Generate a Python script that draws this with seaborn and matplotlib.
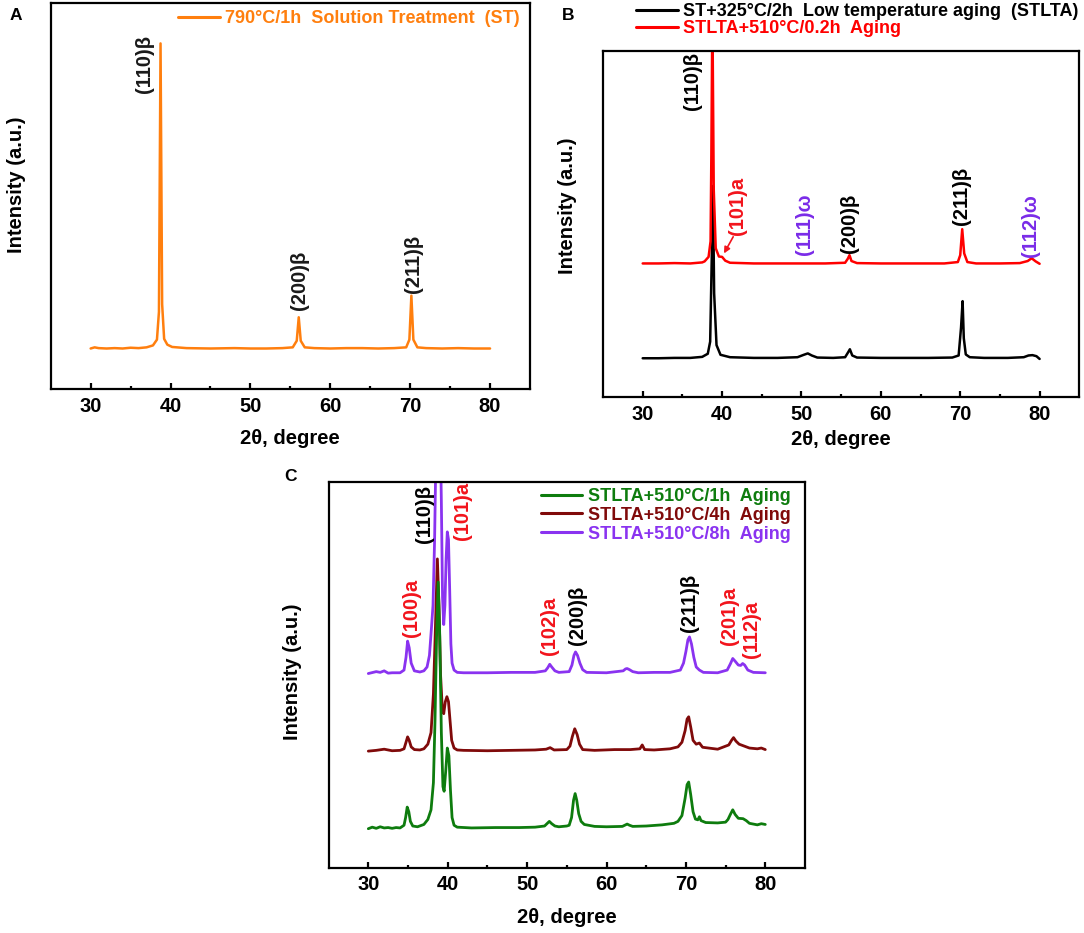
import seaborn as sns
import matplotlib.pyplot as plt
from matplotlib.ticker import MultipleLocator, FixedLocator
from matplotlib.lines import Line2D

# ---------------- data (2theta in degree, intensity a.u. 0..100) -------------
# panel A : 790C/1h solution treatment
tt_st = [30, 30.5, 31, 32, 33, 34, 35, 36, 37, 37.8, 38.3, 38.55, 38.75, 38.95, 39.2, 39.6, 40.2,
         42, 45, 48, 50, 52, 54, 55.3, 55.8, 56.05, 56.3, 56.8, 58, 60, 62, 64, 66, 68, 69.5,
         69.9, 70.15, 70.4, 70.9, 72, 74, 76, 78, 80]
i_st = [10.5, 10.8, 10.6, 10.5, 10.6, 10.5, 10.7, 10.6, 10.8, 11.3, 12.8, 20, 89.6, 22, 13, 11.5, 10.9,
        10.6, 10.5, 10.6, 10.5, 10.5, 10.6, 10.8, 12.5, 18.6, 12.5, 10.8, 10.6, 10.5, 10.6, 10.6, 10.5, 10.6, 10.8,
        12.8, 24.2, 12.8, 10.8, 10.6, 10.5, 10.6, 10.5, 10.5]

# panel B : STLTA (black) and STLTA + 510C/0.2h (red)
tt_stlta = [30, 32, 34, 36, 37.5, 38.2, 38.5, 38.7, 38.85, 39.0, 39.3, 39.8, 41, 44, 47, 49.5, 50.3,
            50.8, 51.3, 52, 54, 55.5, 55.9, 56.1, 56.4, 57, 60, 63, 66, 69, 69.8, 70.1, 70.3, 70.45,
            70.7, 71.2, 73, 76, 78, 78.6, 79.1, 79.6, 80]
i_stlta = [11.2, 11.2, 11.3, 11.3, 11.6, 12.5, 16, 40, 61, 30, 15, 12.2, 11.5, 11.3, 11.3, 11.5, 12.2,
           12.6, 12.0, 11.4, 11.3, 11.5, 13.0, 13.8, 12.0, 11.4, 11.3, 11.3, 11.3, 11.4, 12.0, 20, 27.7, 17,
           12.3, 11.5, 11.3, 11.3, 11.5, 12.0, 12.1, 11.8, 11.0]
tt_02h = [30, 32, 34, 36, 37.5, 37.8, 38.3, 38.55, 38.65, 38.78, 38.95, 39.2, 39.6, 40.0, 40.4, 41, 44,
          47, 50, 53, 55.5, 55.85, 56.05, 56.3, 57, 60, 64, 68, 69.7, 70.0, 70.25, 70.5, 70.9, 72, 75,
          77.5, 78.5, 79.0, 79.5, 80]
i_02h = [38.6, 38.6, 38.7, 38.6, 38.9, 39.2, 40.5, 45, 70, 112, 60, 43, 40.6, 40.5, 39.4, 38.8, 38.6,
         38.6, 38.6, 38.6, 38.8, 40.0, 41.0, 39.3, 38.7, 38.6, 38.6, 38.6, 39.0, 41, 48.5, 41.5, 39.0, 38.6, 38.6,
         38.7, 39.3, 40.1, 39.2, 38.5]

# panel C : STLTA + 510C for 1h (green), 4h (maroon), 8h (purple)
tt_1h = [30, 30.5, 31, 31.5, 32, 32.5, 33, 33.5, 34, 34.5, 34.7, 34.9, 35.1, 35.3, 35.6, 36.2, 37, 37.5,
         37.9, 38.2, 38.4, 38.6, 38.8, 39.0, 39.2, 39.4, 39.55, 39.75, 39.95, 40.15, 40.35, 40.55, 40.8,
         41.2, 43, 46, 49, 51, 52.2, 52.5, 52.8, 53.1, 53.5, 54, 55, 55.3, 55.6, 55.85, 56.05, 56.25, 56.5,
         56.8, 57.2, 58.5, 60, 62, 62.3, 62.6, 62.9, 63.3, 65, 67, 68.5, 69.0, 69.5, 69.9, 70.15, 70.35,
         70.6, 70.9, 71.2, 71.5, 71.7, 71.9, 72.5, 74, 75.0, 75.3, 75.6, 75.9, 76.2, 76.6, 77.2, 77.6, 78,
         79, 79.5, 80]
i_1h = [10.1, 10.5, 10.2, 10.6, 10.3, 10.4, 10.2, 10.4, 10.3, 11.0, 13, 15.7, 14.5, 12, 10.8, 10.6, 11.2, 12.5,
        15, 22, 38, 60, 74, 60, 35, 21, 19.8, 25, 31, 29, 20, 13, 11,
        10.5, 10.3, 10.4, 10.4, 10.5, 10.8, 11.4, 12.0, 11.4, 10.8, 10.6, 10.8, 11.0, 13, 17.5, 19.2, 17.5, 14,
        12, 11.2, 10.7, 10.6, 10.7, 11.0, 11.3, 11.0, 10.7, 10.8, 11.1, 11.5, 12, 13.5, 18, 21.5, 22.2,
        19, 14.5, 12.6, 12.4, 13.2, 12.2, 11.7, 11.6, 11.8, 12.5, 13.8, 15.0, 13.8, 12.8, 12.7, 12.2, 11.5,
        11.1, 11.4, 11.2]
tt_4h = [30, 31, 32, 33, 34, 34.5, 34.75, 34.95, 35.15, 35.4, 35.8, 36.5, 37, 37.5, 37.9, 38.2, 38.45,
         38.7, 38.9, 39.1, 39.3, 39.5, 39.7, 39.9, 40.1, 40.3, 40.5, 40.8, 41.2, 42, 45, 48, 51, 52.4, 52.9,
         53.4, 55, 55.4, 55.7, 56.0, 56.3, 56.6, 57, 58.5, 61, 63, 64.2, 64.5, 64.8, 66, 68, 69.0, 69.5,
         69.9, 70.15, 70.35, 70.6, 70.9, 71.3, 71.7, 72.1, 74, 75.4, 75.75, 76.0, 76.3, 76.7, 78, 79, 79.5, 80]
i_4h = [30.2, 30.4, 30.7, 30.3, 30.4, 30.8, 32.5, 33.9, 33, 31.3, 30.6, 30.5, 30.8, 32, 35, 45, 62,
        80, 68, 50, 42, 39.9, 43, 44.3, 43, 38, 33, 31, 30.5, 30.4, 30.3, 30.4, 30.5, 30.7, 31.1,
        30.5, 30.6, 31.5, 34, 36.0, 34.5, 32, 30.6, 30.4, 30.6, 30.6, 30.8, 31.8, 30.6, 30.5, 30.8, 31.3, 32.5,
        35.5, 38.5, 39.1, 36.5, 33, 32, 32.3, 31.2, 30.7, 31.8, 33, 33.7, 32.8, 32.0, 31.0, 30.8, 31.0, 30.6]
tt_8h = [30, 31, 31.5, 32, 32.5, 33, 34, 34.5, 34.75, 34.95, 35.15, 35.4, 35.8, 36.5, 37, 37.4, 37.7,
         37.95, 38.15, 38.35, 38.5, 38.6, 39.05, 39.2, 39.35, 39.5, 39.65, 39.8, 39.95, 40.1, 40.25, 40.4,
         40.55, 40.8, 41.2, 42, 45, 48, 51, 52.3, 52.6, 52.85, 53.1, 53.5, 54, 55.3, 55.65, 55.9, 56.1,
         56.35, 56.65, 57.0, 57.5, 60, 62.1, 62.4, 62.6, 62.9, 63.3, 64, 66, 68, 69.3, 69.7, 70.0, 70.25,
         70.45, 70.7, 71.0, 71.3, 71.7, 72.2, 74, 75.2, 75.6, 75.9, 76.2, 76.6, 76.9, 77.15, 77.4, 77.8,
         78.5, 80]
i_8h = [50.3, 50.8, 50.6, 51.0, 50.4, 50.5, 50.5, 51.2, 54.5, 58.7, 57, 53, 51, 50.7, 51.0, 52, 55,
        62, 68, 85, 105, 115, 115, 95, 70, 63, 68, 80, 87, 85, 72, 58,
        53, 51.2, 50.6, 50.5, 50.5, 50.6, 50.6, 51.0, 51.8, 52.7, 52, 51, 50.6, 50.8, 52.5, 55, 55.9,
        55, 53, 51.3, 50.6, 50.5, 51.0, 51.5, 51.6, 51.3, 50.8, 50.5, 50.6, 50.6, 51.2, 53, 56, 59,
        59.8, 58, 54.5, 52, 51.2, 50.6, 50.5, 51.2, 52.8, 54.2, 53.5, 52.5, 52.4, 52.9, 52.5, 51.2,
        50.6, 50.5]

# peak labels: text, 2theta, height of label foot
lab_a = ['(110)β', '(200)β', '(211)β']
lab_a_x = [36.8, 56.2, 70.4]
lab_a_y = [76.7, 20.5, 24.8]

lab_b = ['(110)β', '(101)a', '(111)ω', '(200)β', '(211)β', '(112)ω']
lab_b_x = [36.3, 41.9, 50.4, 56.0, 70.1, 78.9]
lab_b_y = [82.9, 46.8, 41.0, 41.5, 49.7, 40.5]
lab_b_c = ['k', 'r', 'v', 'k', 'k', 'v']

lab_c = ['(110)β', '(101)a', '(100)a', '(102)a', '(200)β', '(211)β', '(201)a', '(112)a']
lab_c_x = [37.1, 41.9, 35.4, 52.8, 56.3, 70.4, 75.5, 78.3]
lab_c_y = [84.0, 84.9, 59.8, 55.1, 57.6, 61.1, 57.6, 54.2]
lab_c_c = ['k', 'r', 'r', 'r', 'k', 'k', 'r', 'r']

ORANGE = '#ff7f0e'
RED = '#ff0000'
TXT = {'k': '#000000', 'r': '#f2141c', 'v': '#7a2be8'}
GREEN = '#0e7c0e'
MAROON = '#800a0a'
PURPLE = '#8a33f0'

W, H = 1084, 933

sns.set_theme(style='white')
plt.rcParams['font.family'] = ['Liberation Sans', 'DejaVu Sans']
plt.rcParams['font.weight'] = 'bold'
plt.rcParams['text.color'] = 'black'
plt.rcParams['axes.labelcolor'] = 'black'
plt.rcParams['xtick.color'] = 'black'

fig = plt.figure(figsize=(W / 100, H / 100), dpi=100)
axA = fig.add_axes([50.7 / W, 1 - 389 / H, (530 - 50.7) / W, (389 - 3.3) / H])
axB = fig.add_axes([603 / W, 1 - 397 / H, (1079.3 - 603) / W, (397 - 51) / H])
axC = fig.add_axes([328.6 / W, 1 - 867.7 / H, (805 - 328.6) / W, (867.7 - 481.7) / H])


def style(ax, ylab_y, xlab_y):
    ax.set_xlim(25, 85)
    ax.set_ylim(0, 100)
    for s in ax.spines.values():
        s.set_visible(True)
        s.set_color('black')
        s.set_linewidth(1.6)
    ax.xaxis.set_major_locator(MultipleLocator(10))
    ax.xaxis.set_minor_locator(FixedLocator([35, 45, 55, 65, 75]))
    ax.tick_params(axis='x', which='both', bottom=True, top=False, direction='in',
                   color='black', labelcolor='black', labelsize=14.5, pad=5.5)
    ax.tick_params(axis='x', which='major', length=4.5, width=1.6)
    ax.tick_params(axis='x', which='minor', length=2.2, width=1.6)
    ax.tick_params(axis='y', left=False, labelleft=False)
    ax.set_xlabel('2θ, degree', fontsize=14.5, fontweight='bold', color='black')
    ax.set_ylabel('Intensity (a.u.)', fontsize=14.5, fontweight='bold', color='black')
    ax.xaxis.label.set_va('center')
    ax.yaxis.label.set_va('center')
    ax.xaxis.set_label_coords(0.5, xlab_y)
    ax.yaxis.set_label_coords(ylab_y[0], ylab_y[1])
    ax.grid(False)


def peak_labels(ax, labs, xs, ys, cols):
    for s, x, y, c in zip(labs, xs, ys, cols):
        ax.text(x, y, s, rotation=90, ha='center', va='bottom', color=c,
                fontsize=14.5, fontweight='bold')


def legend(ax, colors, labels, x_px, top_px, spacing):
    hs = [Line2D([], [], color=c, lw=2.2) for c in colors]
    ax.legend(hs, labels, loc='upper left', bbox_to_anchor=(x_px / W, 1 - top_px / H),
              bbox_transform=fig.transFigure, frameon=False, borderpad=0, borderaxespad=0,
              handlelength=2.3, handletextpad=0.29, labelspacing=spacing, labelcolor=colors,
              prop={'weight': 'bold', 'size': 13})


# ---- A
sns.lineplot(x=tt_st, y=i_st, ax=axA, color=ORANGE, linewidth=1.8, sort=False, estimator=None)
style(axA, (-0.071, 0.53), -0.1296)
peak_labels(axA, lab_a, lab_a_x, lab_a_y, ['k'] * 3)
legend(axA, [ORANGE], ['790°C/1h  Solution Treatment  (ST)'], 178.3, 10.3, 0)

# ---- B
sns.lineplot(x=tt_stlta, y=i_stlta, ax=axB, color='black', linewidth=1.8, sort=False, estimator=None)
sns.lineplot(x=tt_02h, y=i_02h, ax=axB, color=RED, linewidth=1.8, sort=False, estimator=None)
style(axB, (-0.074, 0.553), -0.124)
peak_labels(axB, lab_b, lab_b_x, lab_b_y, [TXT[c] for c in lab_b_c])
axB.annotate('', xy=(40.24, 41.5), xytext=(41.4, 46.3),
             arrowprops=dict(arrowstyle='-|>', color=TXT['r'], lw=1.2, mutation_scale=9,
                             shrinkA=0, shrinkB=0))
legend(axB, ['black', RED], ['ST+325°C/2h  Low temperature aging  (STLTA)',
                             'STLTA+510°C/0.2h  Aging'], 636, 2.9, 0)

# ---- C
sns.lineplot(x=tt_8h, y=i_8h, ax=axC, color=PURPLE, linewidth=2.0, sort=False, estimator=None)
sns.lineplot(x=tt_4h, y=i_4h, ax=axC, color=MAROON, linewidth=2.0, sort=False, estimator=None)
sns.lineplot(x=tt_1h, y=i_1h, ax=axC, color=GREEN, linewidth=2.0, sort=False, estimator=None)
style(axC, (-0.076, 0.508), -0.130)
peak_labels(axC, lab_c, lab_c_x, lab_c_y, [TXT[c] for c in lab_c_c])
legend(axC, [GREEN, MAROON, PURPLE], ['STLTA+510°C/1h  Aging', 'STLTA+510°C/4h  Aging',
                                      'STLTA+510°C/8h  Aging'], 540.8, 487.9, 0.1)

for s, (px, py) in zip('ABC', [(15.5, 15), (567.7, 15), (290.6, 476.7)]):
    fig.text(px / W, 1 - py / H, s, fontsize=12.5, fontweight='bold', ha='center', va='center',
             color='black')

fig.savefig('out.png', dpi=100)
